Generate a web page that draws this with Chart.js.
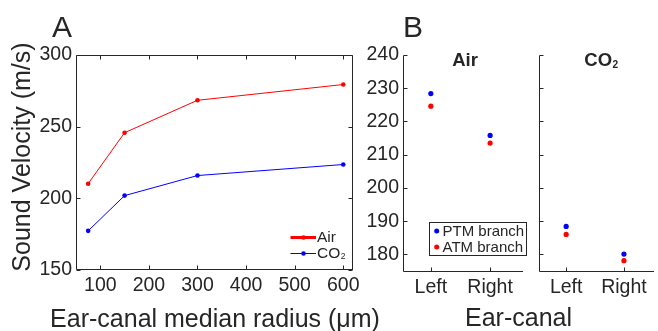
<!DOCTYPE html>
<html><head><meta charset="utf-8">
<script src="https://cdn.jsdelivr.net/npm/chart.js@4.4.1/dist/chart.umd.min.js"></script>
<style>
html,body{margin:0;padding:0;background:#fff;}
#wrap{position:relative;width:658px;height:331px;overflow:hidden;background:#fff;}
canvas{position:absolute;left:0;top:0;}
</style></head><body>
<div id="wrap">
<canvas id="cA" width="658" height="331"></canvas>
<canvas id="cB1" width="658" height="331"></canvas>
<canvas id="cB2" width="658" height="331"></canvas>
</div>
<script>
// ---- data ----
const radius = [75, 150, 300, 600];
const airVel = [210.2, 245.8, 268.4, 279.4];
const co2Vel = [177.3, 201.9, 215.9, 223.6];
const radiusTicks = [100, 200, 300, 400, 500, 600];
const velTicks = [150, 200, 250, 300];
const gasNames = ['Air', 'CO₂'];

const sides = ['Left', 'Right'];
const airPTM = [228.4, 215.8];
const airATM = [224.6, 213.5];
const co2PTM = [188.4, 180.1];
const co2ATM = [186.0, 178.1];
const branchTicks = [180, 190, 200, 210, 220, 230, 240];
const branchNames = ['PTM branch', 'ATM branch'];

// ---- style ----
const INK = '#262626';
const FONT = "'Liberation Sans', Arial, Helvetica, sans-serif";
const RED = '#ff0000', BLUE = '#0000ff';
const W = 658, H = 331;

function drawSub(ctx, text, x, y, size, weight, align) {
  // draws text where a trailing '₂' is rendered as a small lowered 2
  let base = text, sub = '';
  if (text.endsWith('₂')) { base = text.slice(0, -1); sub = '2'; }
  ctx.font = weight + ' ' + size + 'px ' + FONT;
  const wb = ctx.measureText(base).width;
  const ss = size * 0.55;
  ctx.font = weight + ' ' + ss + 'px ' + FONT;
  const ws = sub ? ctx.measureText(sub).width : 0;
  let x0 = x;
  if (align === 'center') x0 = x - (wb + ws) / 2;
  ctx.textAlign = 'left';
  ctx.textBaseline = 'alphabetic';
  ctx.font = weight + ' ' + size + 'px ' + FONT;
  ctx.fillText(base, x0, y);
  if (sub) {
    ctx.font = weight + ' ' + ss + 'px ' + FONT;
    ctx.fillText(sub, x0 + wb + 0.5, y + size * 0.12);
  }
}

const framePlugin = {
  id: 'frame',
  afterDatasetsDraw(chart, args, o) {
    const ctx = chart.ctx, a = chart.chartArea, xs = chart.scales.x, ys = chart.scales.y;
    const L = Math.round(a.left) + 0.5, R = Math.round(a.right) - 0.5;
    const T = Math.round(a.top) + 0.5, B = Math.round(a.bottom) - 0.5;
    const tl = o.tickLen || 4;
    ctx.save();
    ctx.strokeStyle = INK; ctx.lineWidth = 1;
    ctx.beginPath();
    ctx.moveTo(L, T); ctx.lineTo(L, B); ctx.lineTo(R + 0.5, B);
    if (o.box) { ctx.moveTo(R, B); ctx.lineTo(R, T); ctx.lineTo(L, T); }
    xs.ticks.forEach(t => {
      const px = Math.round(xs.getPixelForValue(t.value)) + 0.5;
      ctx.moveTo(px, B); ctx.lineTo(px, B - tl);
      if (o.box) { ctx.moveTo(px, T); ctx.lineTo(px, T + tl); }
    });
    ys.ticks.forEach(t => {
      const py = Math.round(ys.getPixelForValue(t.value)) + 0.5;
      ctx.moveTo(L, py); ctx.lineTo(L + tl, py);
      if (o.box) { ctx.moveTo(R, py); ctx.lineTo(R - tl, py); }
    });
    ctx.stroke();
    ctx.restore();
  }
};

const textPlugin = {
  id: 'texts',
  afterDraw(chart, args, o) {
    if (!o.draw) return;
    const ctx = chart.ctx;
    ctx.save();
    ctx.fillStyle = INK;
    o.draw(ctx, chart);
    ctx.restore();
  }
};

function box(area) {
  return {
    padding: { left: 0, top: area.top, right: W - area.right, bottom: 0 }
  };
}

function makeChart(id, area, datasets, xOpt, yOpt, plugOpts) {
  return new Chart(document.getElementById(id), {
    type: 'scatter',
    data: { datasets },
    options: {
      responsive: false,
      animation: false,
      events: [],
      layout: box(area),
      plugins: {
        legend: { display: false },
        tooltip: { enabled: false },
        frame: plugOpts.frame,
        texts: plugOpts.texts || {}
      },
      scales: {
        x: Object.assign({
          type: 'linear', position: 'bottom',
          grid: { display: false, drawTicks: false },
          border: { display: false },
          afterFit: s => { s.height = H - area.bottom; }
        }, xOpt),
        y: Object.assign({
          type: 'linear', position: 'left',
          grid: { display: false, drawTicks: false },
          border: { display: false },
          afterFit: s => { s.width = area.left; }
        }, yOpt)
      }
    },
    plugins: [framePlugin, textPlugin]
  });
}

const tickFont = { family: FONT, size: 19.5 };

// ---- Panel A ----
const pts = (xs, ys) => xs.map((x, i) => ({ x, y: ys[i] }));
makeChart('cA', { left: 76, right: 353, top: 55, bottom: 270 }, [
  { label: gasNames[0], data: pts(radius, airVel), showLine: true, borderColor: RED, backgroundColor: RED,
    borderWidth: 1, pointRadius: 2.3, pointBorderWidth: 0 },
  { label: gasNames[1], data: pts(radius, co2Vel), showLine: true, borderColor: BLUE, backgroundColor: BLUE,
    borderWidth: 1, pointRadius: 2.3, pointBorderWidth: 0 }
], {
  min: 50, max: 620,
  afterBuildTicks: s => { s.ticks = radiusTicks.map(v => ({ value: v })); },
  ticks: { font: tickFont, color: INK, padding: 4, maxRotation: 0, autoSkip: false }
}, {
  min: 150, max: 300,
  afterBuildTicks: s => { s.ticks = velTicks.map(v => ({ value: v })); },
  ticks: { font: tickFont, color: INK, padding: 4 }
}, {
  frame: { box: true, tickLen: 4 },
  texts: { draw: (ctx, chart) => {
    // panel label
    ctx.font = '30px ' + FONT; ctx.textAlign = 'left'; ctx.textBaseline = 'alphabetic';
    ctx.fillText('A', 52, 37);
    // axis titles
    ctx.font = '25px ' + FONT; ctx.textAlign = 'center';
    ctx.fillText('Ear-canal median radius (μm)', 215, 327);
    ctx.save();
    ctx.translate(30, 157); ctx.rotate(-Math.PI / 2);
    ctx.fillText('Sound Velocity (m/s)', 0, 0);
    ctx.restore();
    // legend
    const ds = chart.data.datasets;
    const rows = [237, 253], widths = [3, 1];
    ds.forEach((d, i) => {
      ctx.strokeStyle = d.borderColor; ctx.lineWidth = widths[i];
      ctx.beginPath(); ctx.moveTo(290.5, rows[i] + 0.5); ctx.lineTo(316, rows[i] + 0.5); ctx.stroke();
      ctx.fillStyle = d.backgroundColor;
      ctx.beginPath(); ctx.arc(303.5, rows[i] + 0.5, 2.3, 0, Math.PI * 2); ctx.fill();
      ctx.fillStyle = INK;
      drawSub(ctx, d.label, 317, rows[i] + 4.5, 15.5, 'normal', 'left');
    });
  } }
});

// ---- Panel B (Air) ----
const bx = [1, 2];
const xB = (minX, maxX) => ({
  min: minX, max: maxX,
  afterBuildTicks: s => { s.ticks = bx.map(v => ({ value: v })); },
  ticks: { font: tickFont, color: INK, padding: 4, maxRotation: 0, autoSkip: false,
    callback: v => sides[v - 1] }
});
const yB = (show) => ({
  min: 174.7, max: 240,
  afterBuildTicks: s => { s.ticks = branchTicks.map(v => ({ value: v })); },
  ticks: { display: show, font: tickFont, color: INK, padding: 4 }
});

makeChart('cB1', { left: 403, right: 523, top: 55, bottom: 272 }, [
  { label: branchNames[0], data: pts(bx, airPTM), backgroundColor: BLUE, pointRadius: 2.6, pointBorderWidth: 0 },
  { label: branchNames[1], data: pts(bx, airATM), backgroundColor: RED, pointRadius: 2.6, pointBorderWidth: 0 }
], xB(0.53, 2.555), yB(true), {
  frame: { box: false, tickLen: 4 },
  texts: { draw: (ctx, chart) => {
    ctx.font = '30px ' + FONT; ctx.textAlign = 'left'; ctx.textBaseline = 'alphabetic';
    ctx.fillText('B', 403, 37);
    drawSub(ctx, gasNames[0], 465, 66, 18.5, 'bold', 'center');
    ctx.font = '25px ' + FONT; ctx.textAlign = 'center';
    ctx.fillText('Ear-canal', 518.5, 326);
    // legend
    ctx.fillStyle = '#fff';
    ctx.fillRect(429.5, 222.5, 97, 33);
    ctx.strokeStyle = INK; ctx.lineWidth = 1;
    ctx.strokeRect(429.5, 222.5, 97, 33);
    const rows = [231, 247];
    chart.data.datasets.forEach((d, i) => {
      ctx.fillStyle = d.backgroundColor;
      ctx.beginPath(); ctx.arc(436.7, rows[i], 2.5, 0, Math.PI * 2); ctx.fill();
      ctx.fillStyle = INK;
      ctx.font = '15px ' + FONT; ctx.textAlign = 'left'; ctx.textBaseline = 'alphabetic';
      ctx.fillText(d.label, 442.5, rows[i] + 5);
    });
  } }
});

// ---- Panel B (CO2) ----
makeChart('cB2', { left: 539, right: 658, top: 55, bottom: 272 }, [
  { label: branchNames[0], data: pts(bx, co2PTM), backgroundColor: BLUE, pointRadius: 2.6, pointBorderWidth: 0 },
  { label: branchNames[1], data: pts(bx, co2ATM), backgroundColor: RED, pointRadius: 2.6, pointBorderWidth: 0 }
], xB(0.53, 2.52), yB(false), {
  frame: { box: false, tickLen: 4 },
  texts: { draw: (ctx) => {
    drawSub(ctx, gasNames[1], 601, 66, 18.5, 'bold', 'center');
  } }
});
</script>
</body></html>
